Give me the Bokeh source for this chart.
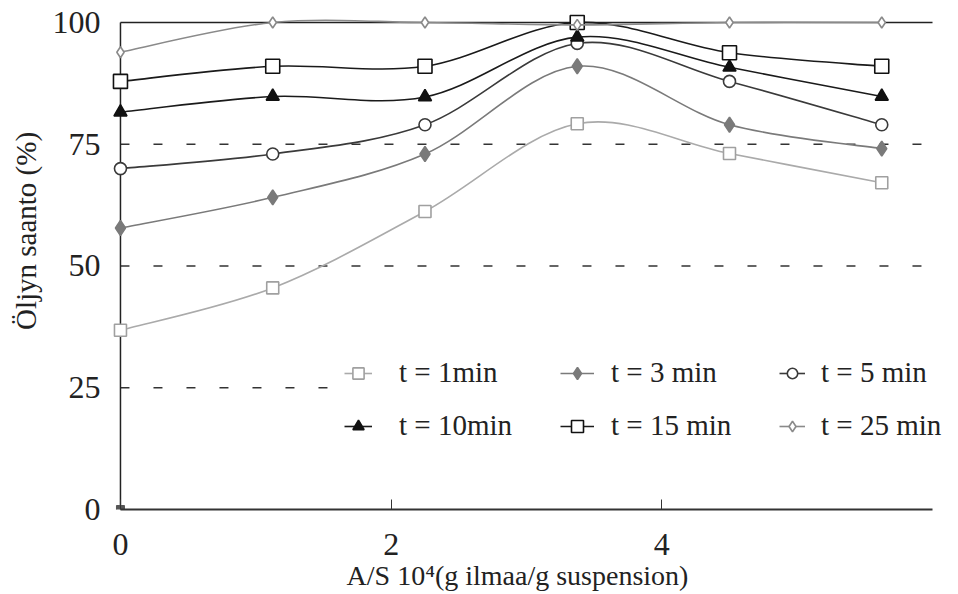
import math
from bokeh.plotting import figure
from bokeh.models import Range1d, FixedTicker, Legend, LegendItem, ColumnDataSource
from bokeh.embed import file_html
from bokeh.resources import INLINE

# ---- data ----
x_vals = [0, 1.125, 2.25, 3.375, 4.5, 5.625]
labels = ["t = 1min", "t = 3 min", "t = 5 min", "t = 10min", "t = 15 min", "t = 25 min"]
y_t1 = [36.8, 45.5, 61.2, 79.2, 73.1, 67.1]
y_t3 = [57.8, 64.1, 73.0, 91.0, 79.0, 74.1]
y_t5 = [70.0, 73.0, 79.0, 95.7, 87.9, 79.0]
y_t10 = [81.6, 84.8, 84.7, 97.0, 90.8, 84.8]
y_t15 = [87.9, 91.0, 91.0, 100.0, 93.8, 91.0]
y_t25 = [93.9, 100.0, 100.0, 99.5, 100.0, 100.0]
origin_x = [0]
origin_y = [0]
x_ticks = [0, 2, 4]
y_ticks = [0, 25, 50, 75, 100]
x_axis_extent = [0, 6.0]
y_axis_extent = [0, 100]
dash_levels = [25, 50, 75]
dash_extent = [0, 5.92]
top_level = [100]
x_title = "A/S 10⁴(g ilmaa/g suspension)"
y_title = "Öljyn saanto (%)"

series = [y_t1, y_t3, y_t5, y_t10, y_t15, y_t25]
styles = [
    dict(line="#aaaaaa", marker="square", size=12, mline="#a0a0a0", mfill="white"),
    dict(line="#7a7a7a", marker="diamond", size=15, mline="#7a7a7a", mfill="#7a7a7a"),
    dict(line="#3a3a3a", marker="circle", size=12, mline="#3a3a3a", mfill="white"),
    dict(line="#1a1a1a", marker="triangle", size=13, mline="#111111", mfill="#111111"),
    dict(line="#1a1a1a", marker="square", size=14, mline="#111111", mfill="white"),
    dict(line="#8a8a8a", marker="diamond", size=11, mline="#8a8a8a", mfill="white"),
]

FONT = "'Liberation Serif', 'Times New Roman', serif"
NBSP = "\u00a0"


def bezier_source(xs, ys):
    n = len(xs)
    d = dict(x0=[], y0=[], x1=[], y1=[], cx0=[], cy0=[], cx1=[], cy1=[])
    for i in range(n - 1):
        im1 = max(i - 1, 0)
        ip2 = min(i + 2, n - 1)
        d["x0"].append(xs[i]); d["y0"].append(ys[i])
        d["x1"].append(xs[i + 1]); d["y1"].append(ys[i + 1])
        d["cx0"].append(xs[i] + (xs[i + 1] - xs[im1]) / 6.0)
        d["cy0"].append(ys[i] + (ys[i + 1] - ys[im1]) / 6.0)
        d["cx1"].append(xs[i + 1] - (xs[ip2] - xs[i]) / 6.0)
        d["cy1"].append(ys[i + 1] - (ys[ip2] - ys[i]) / 6.0)
    return ColumnDataSource(d)


p = figure(width=958, height=594, output_backend="svg", toolbar_location=None,
           x_range=Range1d(-0.118, 6.192), y_range=Range1d(0, 102.46),
           min_border_left=104, min_border_right=0, min_border_top=10,
           min_border_bottom=85)
p.outline_line_color = None
p.background_fill_color = "white"
p.border_fill_color = "white"
p.xgrid.visible = False
p.ygrid.visible = False

# dashed reference lines and solid top line
p.segment(x0=[dash_extent[0]] * len(dash_levels), x1=[dash_extent[1]] * len(dash_levels),
          y0=dash_levels, y1=dash_levels, line_color="#333333", line_width=1.5,
          line_dash="9 24")
p.segment(x0=[x_axis_extent[0]], x1=[x_axis_extent[1]], y0=top_level, y1=top_level,
          line_color="#222222", line_width=1.5)
# y axis line at x = 0
p.segment(x0=[0], x1=[0], y0=[y_axis_extent[0]], y1=[y_axis_extent[1]],
          line_color="#222222", line_width=1.5)

# axes
p.xaxis.ticker = FixedTicker(ticks=x_ticks)
p.xaxis.bounds = (x_axis_extent[0], x_axis_extent[1])
p.xaxis.major_tick_in = 10
p.xaxis.major_tick_out = 0
p.xaxis.minor_tick_line_color = None
p.xaxis.axis_line_width = 2
p.xaxis.axis_line_color = "#333333"
p.xaxis.major_tick_line_color = "#333333"
p.xaxis.major_label_text_font = FONT
p.xaxis.major_label_text_font_size = "32px"
p.xaxis.major_label_text_color = "#222222"
p.xaxis.major_label_standoff = 24
p.xaxis.axis_label = x_title + NBSP * 4
p.xaxis.axis_label_text_font = FONT
p.xaxis.axis_label_text_font_size = "28px"
p.xaxis.axis_label_text_font_style = "normal"
p.xaxis.axis_label_text_color = "#222222"
p.xaxis.axis_label_standoff = 2

p.yaxis.ticker = FixedTicker(ticks=y_ticks)
p.yaxis.axis_line_color = None
p.yaxis.major_tick_in = 0
p.yaxis.major_tick_out = 0
p.yaxis.minor_tick_line_color = None
p.yaxis.major_label_text_font = FONT
p.yaxis.major_label_text_font_size = "32px"
p.yaxis.major_label_text_color = "#222222"
p.yaxis.major_label_standoff = 4
p.yaxis.axis_label = NBSP * 8 + y_title
p.yaxis.axis_label_text_font = FONT
p.yaxis.axis_label_text_font_size = "29px"
p.yaxis.axis_label_text_font_style = "normal"
p.yaxis.axis_label_text_color = "#222222"
p.yaxis.axis_label_standoff = 8

items = []
for ys, st, lab in zip(series, styles, labels):
    src = bezier_source(x_vals, ys)
    br = p.bezier(x0="x0", y0="y0", x1="x1", y1="y1", cx0="cx0", cy0="cy0",
                  cx1="cx1", cy1="cy1", source=src, line_color=st["line"], line_width=1.6)
    sr = p.scatter(x_vals, ys, marker=st["marker"], size=st["size"],
                   line_color=st["mline"], fill_color=st["mfill"], line_width=1.6)
    items.append(LegendItem(label=lab, renderers=[br, sr]))

p.scatter(origin_x, origin_y, marker="square", size=8, color="#555555")

# three legend columns: (t1, t10), (t3, t15), (t5, t25)
col_cfg = [
    dict(idx=(0, 3), x=240, gw=28, so=27, lw=160),
    dict(idx=(1, 4), x=456, gw=34, so=17, lw=165),
    dict(idx=(2, 5), x=675, gw=26, so=16, lw=140),
]
for c in col_cfg:
    lg = Legend(items=[items[i] for i in c["idx"]], location=(c["x"], 67),
                orientation="vertical",
                label_text_font=FONT, label_text_font_size="29px",
                label_text_color="#222222",
                glyph_width=c["gw"], glyph_height=30, label_height=30,
                label_width=c["lw"], label_standoff=c["so"], spacing=20,
                padding=14, margin=0, border_line_color=None,
                background_fill_color="white", background_fill_alpha=1.0)
    p.add_layout(lg, "center")

open("out.html", "w").write(file_html(p, INLINE))
